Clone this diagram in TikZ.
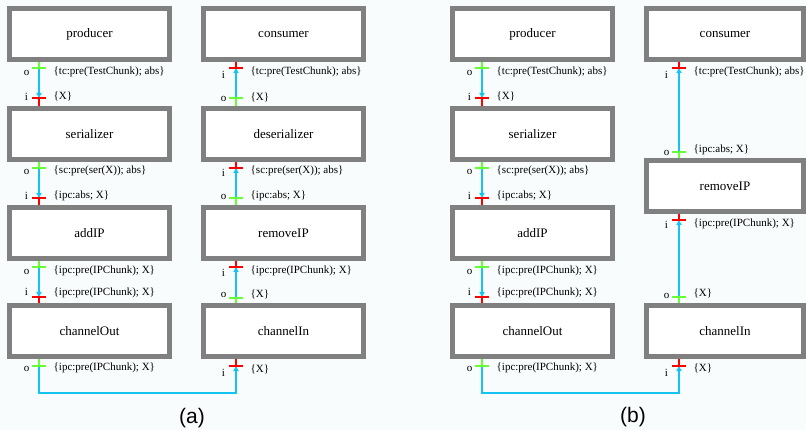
\documentclass[tikz,border=0pt]{standalone}
\usepackage{fontspec}
\setmainfont{Liberation Serif}
\newfontfamily\capfont{Liberation Sans}
\usetikzlibrary{arrows.meta,calc}
\definecolor{boxgray}{RGB}{128,128,128}
\definecolor{pgreen}{RGB}{102,255,51}
\definecolor{pred}{RGB}{255,0,0}
\definecolor{pcyan}{RGB}{20,195,240}
\definecolor{bgc}{RGB}{249,252,252}
\newcommand\mkport[5]{%
  \coordinate (#1) at (#2,#3);
  \draw[#4] (#1) -- (#1 |- #5);
  \draw[#4] ([xshift=-7pt]#1) -- ([xshift=7pt]#1);
}
\newcommand\mklab[6]{%
  \node[pl] (#1L) at (#2-12.5,#4) {#3};
  \node[lbl] (#1T) at (#2+14.5,#5) {#6};
}
\begin{document}
\begin{tikzpicture}[x=1pt,y=-1pt,
  comp/.style={draw=boxgray, line width=5pt, fill=white, minimum width=160pt,
    minimum height=50.5pt, inner sep=0pt, outer sep=2.5pt,
    font=\fontsize{13}{15}\selectfont},
  compb/.style={comp, minimum width=157pt},
  tickg/.style={draw=pgreen, line width=2pt},
  tickr/.style={draw=pred, line width=2pt},
  flow/.style={draw=pcyan, line width=2pt, -{Triangle[length=5pt,width=5pt]}},
  lbl/.style={anchor=west, inner sep=0pt, font=\fontsize{11}{13}\selectfont},
  pl/.style={inner sep=0pt, font=\fontsize{11}{13}\selectfont},
  captxt/.style={inner sep=0pt, font=\capfont\fontsize{21}{24}\selectfont},
]
\fill[bgc] (0,0) rectangle (806,430);
\useasboundingbox (0,0) rectangle (806,430);

% ---------------- panel (a) ----------------
\node[comp] (aprod) at (89.5,34.25) {producer};
\node[comp] (aser)  at (89.5,134)   {serializer};
\node[comp] (aadd)  at (89.5,233)   {addIP};
\node[comp] (acout) at (89.5,331)   {channelOut};
\node[comp] (acons) at (283.5,34.25) {consumer};
\node[comp] (ades)  at (283.5,134)   {deserializer};
\node[comp] (arem)  at (283.5,233)   {removeIP};
\node[comp] (acin)  at (283.5,331)   {channelIn};

\coordinate (aPo) at (39,68);
\coordinate (aSi) at (39,98);
\coordinate (aSo) at (39,168);
\coordinate (aAi) at (39,198);
\coordinate (aAo) at (39,267);
\coordinate (aCi) at (39,297);
\coordinate (aCo) at (39,366);
\coordinate (aKi) at (236,68);
\coordinate (aDo) at (236,98);
\coordinate (aDi) at (236,168);
\coordinate (aRo) at (236,198);
\coordinate (aRi) at (236,267);
\coordinate (aNo) at (236,298);
\coordinate (aNi) at (236,366);
\coordinate (aB1) at (39,393);
\coordinate (aB2) at (236,393);

\draw[flow] (aPo) -- (aSi);
\draw[flow] (aSo) -- (aAi);
\draw[flow] (aAo) -- (aCi);
\draw[flow] (aDo) -- (aKi);
\draw[flow] (aRo) -- (aDi);
\draw[flow] (aNo) -- (aRi);
\draw[flow] (aCo) -- (aB1) -- (aB2) -- (aNi);

\mkport{aPo}{39}{68}{tickg}{aprod.south}
\mkport{aSi}{39}{98}{tickr}{aser.north}
\mkport{aSo}{39}{168}{tickg}{aser.south}
\mkport{aAi}{39}{198}{tickr}{aadd.north}
\mkport{aAo}{39}{267}{tickg}{aadd.south}
\mkport{aCi}{39}{297}{tickr}{acout.north}
\mkport{aCo}{39}{366}{tickg}{acout.south}
\mkport{aKi}{236}{68}{tickr}{acons.south}
\mkport{aDo}{236}{98}{tickg}{ades.north}
\mkport{aDi}{236}{168}{tickr}{ades.south}
\mkport{aRo}{236}{198}{tickg}{arem.north}
\mkport{aRi}{236}{267}{tickr}{arem.south}
\mkport{aNo}{236}{298}{tickg}{acin.north}
\mkport{aNi}{236}{366}{tickr}{acin.south}

\mklab{aPo}{39}{o}{73}{71.5}{\{tc:pre(TestChunk); abs\}}
\mklab{aSi}{39}{i}{97}{96.5}{\{X\}}
\mklab{aSo}{39}{o}{172}{171}{\{sc:pre(ser(X)); abs\}}
\mklab{aAi}{39}{i}{196}{196}{\{ipc:abs; X\}}
\mklab{aAo}{39}{o}{272}{270.5}{\{ipc:pre(IPChunk); X\}}
\mklab{aCi}{39}{i}{292}{293}{\{ipc:pre(IPChunk); X\}}
\mklab{aCo}{39}{o}{368.5}{368}{\{ipc:pre(IPChunk); X\}}
\mklab{aKi}{236}{i}{75}{72}{\{tc:pre(TestChunk); abs\}}
\mklab{aDo}{236}{o}{99}{97}{\{X\}}
\mklab{aDi}{236}{i}{173}{171}{\{sc:pre(ser(X)); abs\}}
\mklab{aRo}{236}{o}{197}{196}{\{ipc:abs; X\}}
\mklab{aRi}{236}{i}{273}{271}{\{ipc:pre(IPChunk); X\}}
\mklab{aNo}{236}{o}{295}{294}{\{X\}}
\mklab{aNi}{236}{i}{373}{369}{\{X\}}

\node[captxt] (capa) at (192,418) {(a)};

% ---------------- panel (b) ----------------
\node[comp] (bprod) at (532.5,34.25) {producer};
\node[comp] (bser)  at (532.5,134)   {serializer};
\node[comp] (badd)  at (532.5,233)   {addIP};
\node[comp] (bcout) at (532.5,331)   {channelOut};
\node[compb] (bcons) at (725,34.25) {consumer};
\node[compb] (brem)  at (725,186)   {removeIP};
\node[compb] (bcin)  at (725,331)   {channelIn};

\coordinate (bPo) at (482,68);
\coordinate (bSi) at (482,98);
\coordinate (bSo) at (482,168);
\coordinate (bAi) at (482,198);
\coordinate (bAo) at (482,267);
\coordinate (bCi) at (482,297);
\coordinate (bCo) at (482,366);
\coordinate (bKi) at (679,68);
\coordinate (bRo) at (679,152);
\coordinate (bRi) at (679,220);
\coordinate (bNo) at (679,297);
\coordinate (bNi) at (679,366);
\coordinate (bB1) at (482,393);
\coordinate (bB2) at (679,393);

\draw[flow] (bPo) -- (bSi);
\draw[flow] (bSo) -- (bAi);
\draw[flow] (bAo) -- (bCi);
\draw[flow] (bRo) -- (bKi);
\draw[flow] (bNo) -- (bRi);
\draw[flow] (bCo) -- (bB1) -- (bB2) -- (bNi);

\mkport{bPo}{482}{68}{tickg}{bprod.south}
\mkport{bSi}{482}{98}{tickr}{bser.north}
\mkport{bSo}{482}{168}{tickg}{bser.south}
\mkport{bAi}{482}{198}{tickr}{badd.north}
\mkport{bAo}{482}{267}{tickg}{badd.south}
\mkport{bCi}{482}{297}{tickr}{bcout.north}
\mkport{bCo}{482}{366}{tickg}{bcout.south}
\mkport{bKi}{679}{68}{tickr}{bcons.south}
\mkport{bRo}{679}{152}{tickg}{brem.north}
\mkport{bRi}{679}{220}{tickr}{brem.south}
\mkport{bNo}{679}{297}{tickg}{bcin.north}
\mkport{bNi}{679}{366}{tickr}{bcin.south}

\mklab{bPo}{482}{o}{73}{71.5}{\{tc:pre(TestChunk); abs\}}
\mklab{bSi}{482}{i}{97}{96.5}{\{X\}}
\mklab{bSo}{482}{o}{172}{171}{\{sc:pre(ser(X)); abs\}}
\mklab{bAi}{482}{i}{196}{196}{\{ipc:abs; X\}}
\mklab{bAo}{482}{o}{272}{270.5}{\{ipc:pre(IPChunk); X\}}
\mklab{bCi}{482}{i}{292}{293}{\{ipc:pre(IPChunk); X\}}
\mklab{bCo}{482}{o}{369}{368}{\{ipc:pre(IPChunk); X\}}
\mklab{bKi}{679}{i}{75}{72}{\{tc:pre(TestChunk); abs\}}
\mklab{bRo}{679}{o}{153}{149.5}{\{ipc:abs; X\}}
\mklab{bRi}{679}{i}{225}{224}{\{ipc:pre(IPChunk); X\}}
\mklab{bNo}{679}{o}{296}{293}{\{X\}}
\mklab{bNi}{679}{i}{373}{368}{\{X\}}

\node[captxt] (capb) at (633,417) {(b)};
\end{tikzpicture}
\end{document}
